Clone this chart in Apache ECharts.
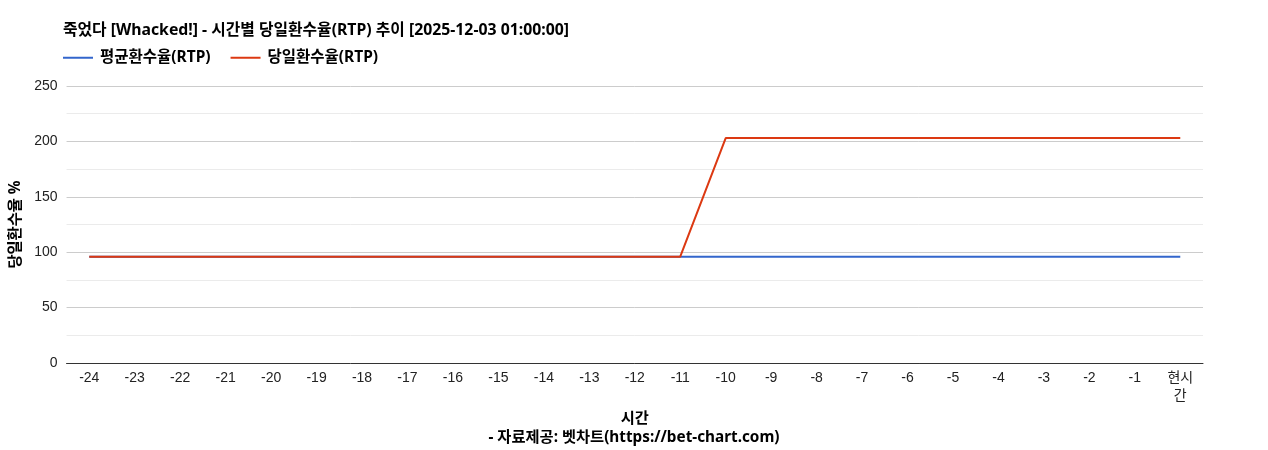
<!DOCTYPE html>
<html><head><meta charset="utf-8">
<script src="https://cdn.jsdelivr.net/npm/echarts@6/dist/echarts.min.js"></script>
<style>html,body{margin:0;padding:0;background:#fff}#c{width:1268px;height:450px}</style>
</head><body><div id="c"></div>
<script>
const categories = ['-24','-23','-22','-21','-20','-19','-18','-17','-16','-15','-14','-13','-12','-11','-10','-9','-8','-7','-6','-5','-4','-3','-2','-1','현시간'];
const avgRtp = [96,96,96,96,96,96,96,96,96,96,96,96,96,96,96,96,96,96,96,96,96,96,96,96,96];
const dayRtp = [96,96,96,96,96,96,96,96,96,96,96,96,96,96,203,203,203,203,203,203,203,203,203,203,203];
const titleText = '죽었다 [Whacked!] - 시간별 당일환수율(RTP) 추이 [2025-12-03 01:00:00]';
const sourceText = '- 자료제공: 벳차트(https://bet-chart.com)';
const FONT = 'Arial, "Liberation Sans", "Noto Sans CJK KR", sans-serif';
const BFONT = '"Noto Sans", "Noto Sans CJK KR", sans-serif';
const chart = echarts.init(document.getElementById('c'));
chart.setOption({
  animation: false,
  textStyle: { fontFamily: FONT },
  title: [
    { text: titleText, left: 58, top: 18, textStyle: { fontFamily: BFONT, fontSize: 15.8, fontWeight: 'bold', color: '#000' } },
    { text: sourceText, left: 'center', top: 425, textStyle: { fontFamily: BFONT, fontSize: 15.3, fontWeight: 'bold', color: '#000' } }
  ],
  legend: {
    left: 58, top: 45, itemGap: 20, itemWidth: 30, itemHeight: 2, icon: 'rect',
    textStyle: { fontFamily: BFONT, fontSize: 15.5, fontWeight: 'bold', color: '#000', padding: [0, 0, 0, 2] },
    data: ['평균환수율(RTP)', '당일환수율(RTP)']
  },
  grid: { left: 63, right: 65, top: 86, bottom: 87, containLabel: false },
  xAxis: {
    type: 'category', data: categories, boundaryGap: true,
    name: '시간', nameLocation: 'middle', nameGap: 48,
    nameTextStyle: { fontFamily: BFONT, fontSize: 15.3, fontWeight: 'bold', color: '#000' },
    axisLine: { lineStyle: { color: '#333', width: 1 } },
    axisTick: { show: false },
    axisLabel: { interval: 0, margin: 6, fontFamily: FONT, fontSize: 14, color: '#222', lineHeight: 18,
      formatter: v => v === '현시간' ? '현시\n간' : v }
  },
  yAxis: {
    type: 'value', min: 0, max: 250, interval: 50,
    name: '당일환수율 %', nameLocation: 'middle', nameGap: 41, nameRotate: 90,
    nameTextStyle: { fontFamily: BFONT, fontSize: 15.3, fontWeight: 'bold', color: '#000' },
    axisLine: { show: false }, axisTick: { show: false },
    axisLabel: { margin: 9, fontFamily: FONT, fontSize: 14, color: '#222' },
    splitLine: { lineStyle: { color: '#cccccc', width: 1 } },
    minorTick: { show: false, splitNumber: 2 },
    minorSplitLine: { show: true, lineStyle: { color: '#ebebeb', width: 1 } }
  },
  series: [
    { name: '평균환수율(RTP)', type: 'line', data: avgRtp, showSymbol: false, symbol: 'none',
      color: '#3366cc', lineStyle: { width: 2, color: '#3366cc' }, z: 2 },
    { name: '당일환수율(RTP)', type: 'line', data: dayRtp, showSymbol: false, symbol: 'none',
      color: '#dc3912', lineStyle: { width: 2, color: '#dc3912' }, z: 3 }
  ]
});
</script></body></html>
